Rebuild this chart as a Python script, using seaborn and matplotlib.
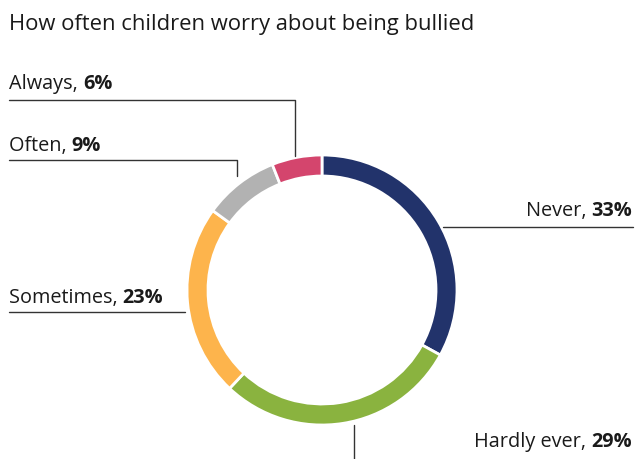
import matplotlib
matplotlib.use("Agg")
import matplotlib.pyplot as plt
import seaborn as sns

title = "How often children worry about being bullied"
categories = ["Never", "Hardly ever", "Sometimes", "Often", "Always"]
shares = [33, 29, 23, 9, 6]
colors = ["#22336b", "#8ab33f", "#fdb44c", "#b2b2b2", "#d4456d"]

W, H = 637, 459

# label layout in pixel space (y down): (text x, text baseline y, align, leader polyline)
layout = {
    "Never": (632, 216, "right", [(443, 227), (633, 227)]),
    "Hardly ever": (632, 447, "right", [(354, 425), (354, 459)]),
    "Sometimes": (9, 303, "left", [(185, 312), (9, 312)]),
    "Often": (9, 151, "left", [(237, 176), (237, 160), (9, 160)]),
    "Always": (9, 89, "left", [(295, 156), (295, 100), (9, 100)]),
}


def py(y):
    # pixel row -> data y (data y grows upwards)
    return H - y


sns.set_theme(style="white")
plt.rcParams["font.family"] = ["Open Sans", "DejaVu Sans"]

fig = plt.figure(figsize=(6.37, 4.59), dpi=100)
ax = fig.add_axes([0, 0, 1, 1])

ax.pie(shares, colors=colors, startangle=90, counterclock=False,
       center=(322, py(290)), radius=135, frame=True,
       wedgeprops=dict(width=21, edgecolor="white", linewidth=2))
ax.set_xlim(0, W)
ax.set_ylim(0, H)
ax.set_aspect("equal")
ax.axis("off")

ax.text(9, py(30), title, fontsize=15.8, color="#1a1a1a", va="baseline")

fig.canvas.draw()
r = fig.canvas.get_renderer()
inv = ax.transData.inverted()
fs = 14.3
for cat, val in zip(categories, shares):
    x, y, ha, pts = layout[cat]
    xs = [p[0] for p in pts]
    ys = [py(p[1]) for p in pts]
    ax.plot(xs, ys, color="#333333", lw=1)
    head, tail = f"{cat}, ", f"{val}%"
    if ha == "left":
        t = ax.text(x, py(y), head, fontsize=fs, color="#1a1a1a", va="baseline", ha="left")
        bb = t.get_window_extent(r)
        x2 = inv.transform((bb.x1, bb.y0))[0]
        ax.text(x2, py(y), tail, fontsize=fs, fontweight="bold", color="#1a1a1a",
                va="baseline", ha="left")
    else:
        t = ax.text(x, py(y), tail, fontsize=fs, fontweight="bold", color="#1a1a1a",
                    va="baseline", ha="right")
        bb = t.get_window_extent(r)
        x2 = inv.transform((bb.x0, bb.y0))[0]
        ax.text(x2, py(y), head, fontsize=fs, color="#1a1a1a", va="baseline", ha="right")

fig.savefig("out.png", dpi=100)
